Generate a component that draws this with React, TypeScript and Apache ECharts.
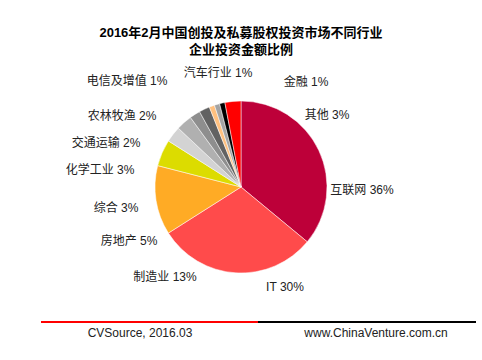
import React, { useEffect, useRef } from "react";
import * as echarts from "echarts";

const categories = [
  "互联网",
  "IT",
  "制造业",
  "房地产",
  "综合",
  "化学工业",
  "交通运输",
  "农林牧渔",
  "电信及增值",
  "汽车行业",
  "金融",
  "其他",
];
const shares = [36, 30, 13, 5, 3, 3, 2, 2, 1, 1, 1, 3];
const colors = [
  "#bd0039",
  "#ff4b4b",
  "#ffab25",
  "#dcdc00",
  "#d3d3d3",
  "#b0b0b0",
  "#8e8e8e",
  "#626262",
  "#ffc07f",
  "#a3a3a3",
  "#000000",
  "#ff0000",
];
// label centre positions (layout only)
const labelPos: [number, number][] = [
  [362, 190],
  [285, 287],
  [165, 277],
  [129, 241],
  [116, 208],
  [100, 170],
  [106, 143],
  [122, 116],
  [127, 81],
  [218, 73],
  [306, 82],
  [327, 115],
];

const titleText = "2016年2月中国创投及私募股权投资市场不同行业\n企业投资金额比例";
const sourceText = "CVSource, 2016.03";
const siteText = "www.ChinaVenture.com.cn";

const FONT = '"Liberation Sans", Arial, "Noto Sans CJK SC", sans-serif';

export default function App() {
  const ref = useRef<HTMLDivElement>(null);
  useEffect(() => {
    document.body.style.margin = "0";
    if (!ref.current) return;
    const chart = echarts.init(ref.current, null, { renderer: "svg" });
    chart.setOption({
      animation: false,
      backgroundColor: "#ffffff",
      title: {
        text: titleText,
        left: "center",
        top: 19,
        textStyle: {
          fontFamily: FONT,
          fontSize: 13,
          fontWeight: "bold",
          color: "#000",
          lineHeight: 17,
        },
      },
      series: [
        {
          type: "pie",
          center: [241, 187],
          radius: [0, 86],
          startAngle: 90,
          clockwise: true,
          data: categories.map((c, i) => ({
            name: c,
            value: shares[i],
            itemStyle: { color: colors[i] },
          })),
          itemStyle: { borderColor: "#ffffff", borderWidth: 0.5 },
          label: {
            show: true,
            position: "outside",
            formatter: "{b} {c}%",
            fontFamily: FONT,
            fontSize: 12,
            color: "#222",
          },
          labelLine: { show: false },
          labelLayout: (p: any) => {
            const pos = labelPos[p.dataIndex];
            return { x: pos[0], y: pos[1], align: "center", verticalAlign: "middle" };
          },
          emphasis: { disabled: true },
        },
      ],
      graphic: [
        {
          type: "line",
          shape: { x1: 41, y1: 322, x2: 258, y2: 322 },
          style: { stroke: "#ff0000", lineWidth: 2 },
        },
        {
          type: "line",
          shape: { x1: 258, y1: 322, x2: 476, y2: 322 },
          style: { stroke: "#000000", lineWidth: 2 },
        },
        {
          type: "text",
          x: 140,
          y: 333,
          style: {
            text: sourceText,
            fontFamily: FONT,
            fontSize: 12,
            fill: "#222",
            align: "center",
            verticalAlign: "middle",
          },
        },
        {
          type: "text",
          x: 376,
          y: 333,
          style: {
            text: siteText,
            fontFamily: FONT,
            fontSize: 12,
            fill: "#222",
            align: "center",
            verticalAlign: "middle",
          },
        },
      ],
    });
    return () => chart.dispose();
  }, []);
  return <div ref={ref} style={{ width: 482, height: 360 }} />;
}
